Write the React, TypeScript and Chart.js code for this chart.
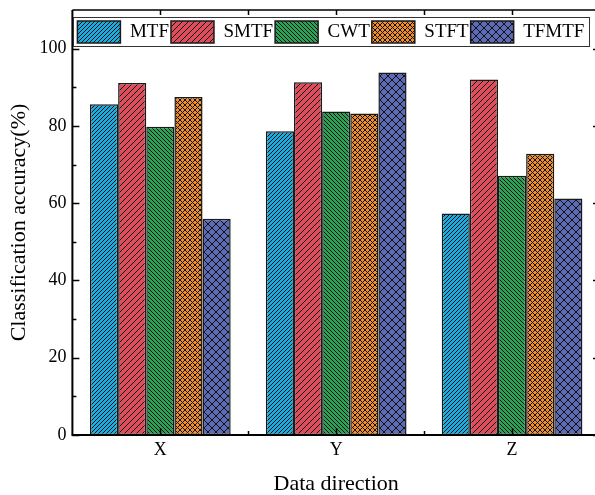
import React, { useEffect, useRef } from "react";
import { Chart, registerables } from "chart.js";

Chart.register(...registerables);

const categories = ["X", "Y", "Z"];
const seriesNames = ["MTF", "SMTF", "CWT", "STFT", "TFMTF"];
const mtfValues = [85.6, 78.6, 57.3];
const smtfValues = [91.1, 91.3, 92.0];
const cwtValues = [79.8, 83.7, 67.1];
const stftValues = [87.5, 83.2, 72.8];
const tfmtfValues = [56.0, 93.8, 61.2];
const yTickValues = [0, 20, 40, 60, 80, 100];

const SERIF = "'Times New Roman', 'Liberation Serif', Times, serif";

type PatternKind = "fwd" | "back" | "cross";

function makePattern(bg: string, kind: PatternKind, s: number, lw: number): CanvasPattern | string {
  const c = document.createElement("canvas");
  c.width = s;
  c.height = s;
  const g = c.getContext("2d");
  if (!g) return bg;
  g.fillStyle = bg;
  g.fillRect(0, 0, s, s);
  g.strokeStyle = "#111";
  g.lineWidth = lw;
  g.beginPath();
  for (let k = -1; k <= 1; k++) {
    if (kind === "fwd" || kind === "cross") {
      g.moveTo(k * s, s);
      g.lineTo(k * s + s, 0);
    }
    if (kind === "back" || kind === "cross") {
      g.moveTo(k * s, 0);
      g.lineTo(k * s + s, s);
    }
  }
  g.stroke();
  const p = g.createPattern(c, "repeat");
  return p || bg;
}

const framePlugin = {
  id: "originFrame",
  beforeLayout(chart: any) {
    if (chart.legend) {
      chart.legend.isHorizontal = () => true;
    }
  },
  afterLayout(chart: any) {
    const lg = chart.legend;
    if (lg) {
      lg.left = chart.chartArea.left + 3;
      lg.right = chart.chartArea.right;
      lg.width = lg.right - lg.left;
    }
  },
  afterDraw(chart: any) {
    const ctx = chart.ctx as CanvasRenderingContext2D;
    const { left, right, top, bottom } = chart.chartArea;
    const xs = chart.scales.x;
    const ys = chart.scales.y;
    ctx.save();
    ctx.strokeStyle = "#000";
    ctx.lineWidth = 2;
    ctx.beginPath();
    ctx.moveTo(left, top);
    ctx.lineTo(left, bottom);
    ctx.lineTo(right, bottom);
    ctx.stroke();
    ctx.lineWidth = 1.5;
    ctx.beginPath();
    ctx.moveTo(left, top);
    ctx.lineTo(right, top);
    ctx.lineTo(right, bottom);
    ctx.stroke();
    ctx.lineWidth = 1.5;
    ctx.beginPath();
    for (let v = 0; v <= 100; v += 10) {
      const y = Math.round(ys.getPixelForValue(v)) + 0.5;
      const len = v % 20 === 0 ? 7 : 4;
      ctx.moveTo(left, y);
      ctx.lineTo(left + len, y);
      ctx.moveTo(right - len, y);
      ctx.lineTo(right, y);
    }
    for (let i = 0; i < categories.length; i++) {
      const x = Math.round(xs.getPixelForValue(i)) + 0.5;
      ctx.moveTo(x, bottom);
      ctx.lineTo(x, bottom - 7);
      ctx.moveTo(x, top);
      ctx.lineTo(x, top + 5);
      if (i < categories.length - 1) {
        const xm = Math.round((xs.getPixelForValue(i) + xs.getPixelForValue(i + 1)) / 2) + 0.5;
        ctx.moveTo(xm, bottom);
        ctx.lineTo(xm, bottom - 4);
        ctx.moveTo(xm, top);
        ctx.lineTo(xm, top + 5);
      }
    }
    ctx.stroke();
    const boxes = chart.legend && chart.legend.legendHitBoxes;
    if (boxes && boxes.length) {
      let l = Infinity, r = -Infinity, t = Infinity, b = -Infinity;
      boxes.forEach((h: any) => {
        l = Math.min(l, h.left);
        r = Math.max(r, h.left + h.width);
        t = Math.min(t, h.top);
        b = Math.max(b, h.top + h.height);
      });
      ctx.lineWidth = 1;
      ctx.strokeStyle = "#333";
      ctx.strokeRect(Math.round(l - 4) + 0.5, Math.round(t - 4) + 0.5, Math.round(r - l + 9), Math.round(b - t + 7));
    }
    ctx.restore();
  },
};

export default function App() {
  const ref = useRef<HTMLCanvasElement | null>(null);

  useEffect(() => {
    const canvas = ref.current;
    if (!canvas) return;
    const fills = [
      makePattern("#1badE2", "fwd", 4, 1),
      makePattern("#de4d5c", "fwd", 6, 1),
      makePattern("#2ca257", "back", 4, 1),
      makePattern("#f28e2a", "cross", 5, 1),
      makePattern("#5d6bb6", "cross", 8, 1),
    ];
    const values = [mtfValues, smtfValues, cwtValues, stftValues, tfmtfValues];
    const chart = new Chart(canvas, {
      type: "bar",
      data: {
        labels: categories,
        datasets: seriesNames.map((name, i) => ({
          label: name,
          data: values[i],
          backgroundColor: fills[i] as any,
          borderColor: "#1a1a1a",
          borderWidth: 1.5,
          borderSkipped: false,
          barPercentage: 1,
          categoryPercentage: 0.8,
        })),
      },
      options: {
        responsive: false,
        animation: false,
        devicePixelRatio: 1,
        layout: { padding: { left: 4, right: 5, top: 10, bottom: -2 } },
        plugins: {
          tooltip: { enabled: false },
          legend: {
            position: "chartArea" as any,
            align: "start",
            labels: {
              boxWidth: 43,
              boxHeight: 22,
              padding: 2,
              color: "#000",
              font: { family: SERIF, size: 19 },
            },
            title: {
              display: true,
              text: "",
              padding: { top: 8, bottom: 0 },
              font: { size: 1, lineHeight: 1 },
            },
          },
        },
        scales: {
          x: {
            type: "category",
            grid: { display: false, drawTicks: false },
            border: { display: false },
            ticks: { color: "#000", padding: 4, font: { family: SERIF, size: 18 } },
            title: {
              display: true,
              text: "Data direction",
              color: "#000",
              padding: { top: 6, bottom: 0 },
              font: { family: SERIF, size: 22 },
            },
          },
          y: {
            min: 0,
            max: 110,
            grid: { display: false, drawTicks: false },
            border: { display: false },
            afterBuildTicks: (scale: any) => {
              scale.ticks = yTickValues.map((v) => ({ value: v }));
            },
            ticks: {
              color: "#000",
              padding: 6,
              font: { family: SERIF, size: 18, lineHeight: 0.4 },
            },
            title: {
              display: true,
              text: "Classification accuracy(%)",
              color: "#000",
              padding: { top: 2, bottom: 1 },
              font: { family: SERIF, size: 22 },
            },
          },
        },
      },
      plugins: [framePlugin],
    });
    return () => chart.destroy();
  }, []);

  return (
    <div style={{ position: "absolute", left: 0, top: 0, width: 595, height: 495, overflow: "hidden", background: "#fff" }}>
      <canvas ref={ref} width={605} height={495} style={{ display: "block", width: 605, height: 495 }} />
    </div>
  );
}
